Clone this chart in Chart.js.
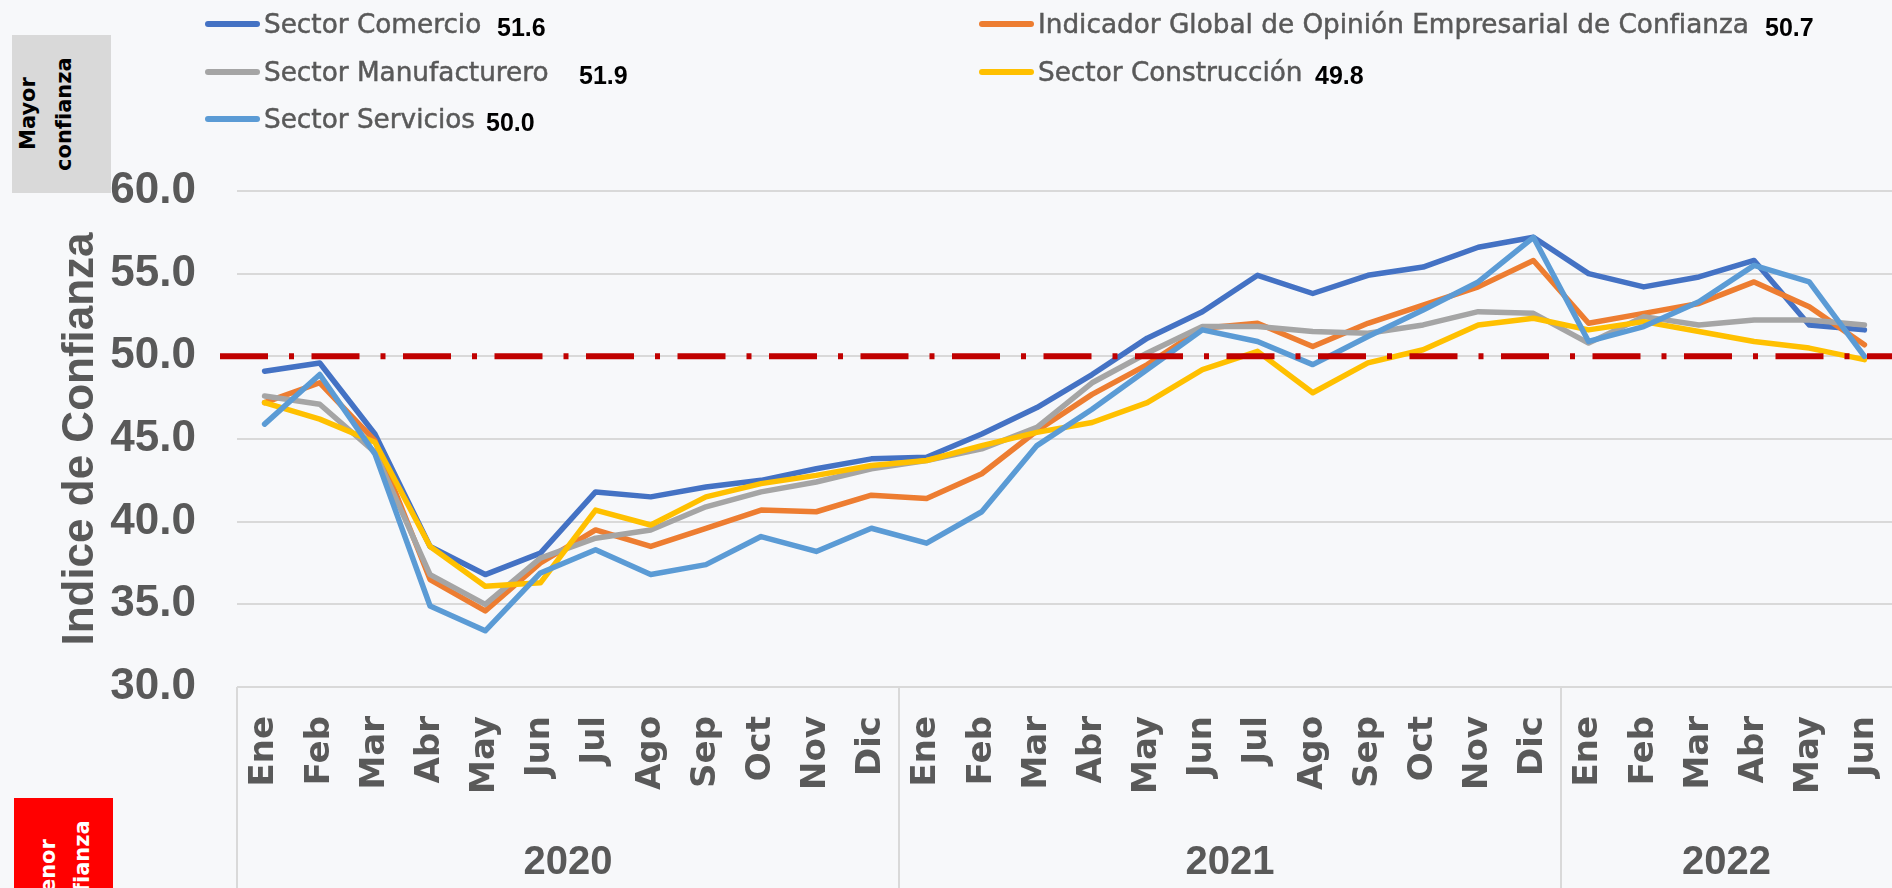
<!DOCTYPE html>
<html lang="es">
<head>
<meta charset="utf-8">
<title>Indice de Confianza</title>
<script src="https://cdn.jsdelivr.net/npm/chart.js@4.4.1/dist/chart.umd.min.js"></script>
<style>
  html, body { margin: 0; padding: 0; }
  body { width: 1892px; height: 888px; overflow: hidden; background: #F7F8FA; position: relative; font-family: 'DejaVu Sans', sans-serif; }
  #chart { position: absolute; left: 0; top: 0; }
  .box { position: absolute; width: 99px; height: 158px; overflow: hidden; }
  .box span { position: absolute; top: 0; height: 158px; writing-mode: vertical-rl; transform: rotate(180deg); text-align: center; font-weight: bold; font-size: 21px; }
  .legend-line { position: absolute; width: 55px; height: 6px; border-radius: 3px; }
  .legend-text { position: absolute; font-size: 26.3px; line-height: 30px; color: #595959; white-space: nowrap; -webkit-text-stroke: 0.5px #595959; }
  .legend-value { position: absolute; font-family: 'Liberation Sans', sans-serif; font-weight: bold; font-size: 25px; line-height: 30px; color: #000; }
</style>
</head>
<body>
<div class="box" style="left:12px; top:35px; background:#D9D9D9;"><span style="left:-2px; line-height:36px; color:#000;">Mayor<br>confianza</span></div>
<div class="box" style="left:14px; top:798px; background:#FF0000;"><span style="left:17px; line-height:34px; color:#fff;">Menor<br>confianza</span></div>
<canvas id="chart" width="1892" height="888"></canvas>
<div id="legend"></div>
<script>
const meses = ['Ene', 'Feb', 'Mar', 'Abr', 'May', 'Jun', 'Jul', 'Ago', 'Sep', 'Oct', 'Nov', 'Dic',
               'Ene', 'Feb', 'Mar', 'Abr', 'May', 'Jun', 'Jul', 'Ago', 'Sep', 'Oct', 'Nov', 'Dic',
               'Ene', 'Feb', 'Mar', 'Abr', 'May', 'Jun'];
const anios = ['2020', '2021', '2022'];
const mesesPorAnio = [12, 12, 6];
const umbral = 50;

const comercio      = [49.1, 49.6, 45.3, 38.5, 36.8, 38.1, 41.8, 41.5, 42.1, 42.5, 43.2, 43.8,
                       43.9, 45.3, 46.9, 48.9, 51.1, 52.7, 54.9, 53.8, 54.9, 55.4, 56.6, 57.2,
                       55.0, 54.2, 54.8, 55.8, 51.9, 51.6];
const indicador     = [47.2, 48.4, 44.9, 36.5, 34.6, 37.5, 39.5, 38.5, 39.6, 40.7, 40.6, 41.6,
                       41.4, 42.9, 45.5, 47.7, 49.5, 51.7, 52.0, 50.6, 52.0, 53.1, 54.2, 55.8,
                       52.0, 52.6, 53.2, 54.5, 53.0, 50.7];
const manufacturero = [47.6, 47.1, 44.2, 36.8, 35.0, 37.8, 39.0, 39.5, 40.9, 41.8, 42.4, 43.2,
                       43.7, 44.4, 45.7, 48.4, 50.2, 51.8, 51.8, 51.5, 51.4, 51.9, 52.7, 52.6,
                       50.8, 52.4, 51.9, 52.2, 52.2, 51.9];
const construccion  = [47.2, 46.2, 44.8, 38.5, 36.1, 36.3, 40.7, 39.8, 41.5, 42.3, 42.8, 43.4,
                       43.7, 44.6, 45.4, 46.0, 47.2, 49.2, 50.3, 47.8, 49.6, 50.4, 51.9, 52.3,
                       51.6, 52.1, 51.5, 50.9, 50.5, 49.8];
const servicios     = [45.9, 48.9, 44.1, 34.9, 33.4, 36.9, 38.3, 36.8, 37.4, 39.1, 38.2, 39.6,
                       38.7, 40.6, 44.6, 46.8, 49.2, 51.6, 50.9, 49.5, 51.2, 52.8, 54.5, 57.2,
                       50.9, 51.8, 53.3, 55.5, 54.5, 50.0];

const nombres = ['Sector Comercio', 'Indicador Global de Opinión Empresarial de Confianza',
                 'Sector Manufacturero', 'Sector Construcción', 'Sector Servicios'];
const series = [comercio, indicador, manufacturero, construccion, servicios];
const colores = ['#4472C4', '#ED7D31', '#A5A5A5', '#FFC000', '#5B9BD5'];

// where each legend entry sits (line/text x, row y, value x)
const legendPos = [
  { x: 205, y: 24, v: 497 },
  { x: 979, y: 24, v: 1765 },
  { x: 205, y: 72, v: 579 },
  { x: 979, y: 72, v: 1315 },
  { x: 205, y: 119, v: 486 }
];

const legend = document.getElementById('legend');
series.forEach((d, i) => {
  const p = legendPos[i];
  legend.insertAdjacentHTML('beforeend',
    '<div class="legend-line" style="left:' + p.x + 'px; top:' + (p.y - 3) + 'px; background:' + colores[i] + ';"></div>' +
    '<div class="legend-text" style="left:' + (p.x + 59) + 'px; top:' + (p.y - 15) + 'px;">' + nombres[i] + '</div>' +
    '<div class="legend-value" style="left:' + p.v + 'px; top:' + (p.y - 12) + 'px;">' + d[d.length - 1].toFixed(1) + '</div>');
});

const refLine = {
  id: 'refLine',
  afterDatasetsDraw(c) {
    const y = c.scales.y.getPixelForValue(umbral);
    const g = c.ctx;
    g.save();
    g.strokeStyle = '#C00000';
    g.lineWidth = 6;
    g.setLineDash([48, 21, 5, 17.5]);
    g.beginPath();
    g.moveTo(c.chartArea.left - 17, y);
    g.lineTo(c.chartArea.right, y);
    g.stroke();
    g.restore();
  }
};

const yearAxis = {
  id: 'yearAxis',
  afterDraw(c) {
    const x = c.scales.x, g = c.ctx, area = c.chartArea;
    g.save();
    g.strokeStyle = '#D9D9D9';
    g.lineWidth = 2;
    g.fillStyle = '#595959';
    g.font = 'bold 40px "Liberation Sans"';
    g.textAlign = 'center';
    g.textBaseline = 'middle';
    let start = 0;
    anios.forEach((a, i) => {
      const end = start + mesesPorAnio[i];
      const left = start === 0 ? area.left : (x.getPixelForTick(start - 1) + x.getPixelForTick(start)) / 2;
      const right = end >= meses.length ? area.right : (x.getPixelForTick(end - 1) + x.getPixelForTick(end)) / 2;
      g.beginPath();
      g.moveTo(left, area.bottom);
      g.lineTo(left, c.height);
      g.stroke();
      g.fillText(a, (left + right) / 2, area.bottom + 176);
      start = end;
    });
    g.restore();
  }
};

const ctx = document.getElementById('chart').getContext('2d');
const chart = new Chart(ctx, {
  type: 'line',
  data: {
    labels: meses,
    datasets: series.map((d, i) => ({
      label: nombres[i],
      data: d,
      borderColor: colores[i],
      backgroundColor: colores[i],
      order: series.length - i
    }))
  },
  options: {
    responsive: false,
    animation: false,
    layout: { padding: { top: 191, left: 0, right: 0, bottom: 0 } },
    plugins: { legend: { display: false }, tooltip: { enabled: false } },
    elements: {
      point: { radius: 0 },
      line: { tension: 0, borderWidth: 5.5, borderCapStyle: 'round', borderJoinStyle: 'round' }
    },
    scales: {
      x: {
        offset: true,
        grid: { display: false, drawTicks: false },
        border: { display: false },
        ticks: {
          autoSkip: false, minRotation: 90, maxRotation: 90, padding: 29,
          color: '#595959', font: { family: 'DejaVu Sans', size: 34, weight: 'bold' }
        },
        afterFit: s => { s.height = 201; s.paddingLeft = 0; s.paddingRight = 0; }
      },
      y: {
        min: 30, max: 60,
        ticks: {
          stepSize: 5, padding: 41, color: '#595959',
          font: { family: 'Liberation Sans', size: 44, weight: 'bold' },
          callback: v => v.toFixed(1)
        },
        grid: { color: '#D9D9D9', lineWidth: 2, drawTicks: false },
        border: { display: false },
        title: {
          display: true, text: 'Indice de Confianza', color: '#595959',
          font: { family: 'Liberation Sans', size: 44, weight: 'bold' },
          padding: { top: 54, bottom: 0 }
        },
        afterFit: s => { s.width = 237; }
      }
    }
  },
  plugins: [refLine, yearAxis]
});
</script>
</body>
</html>
